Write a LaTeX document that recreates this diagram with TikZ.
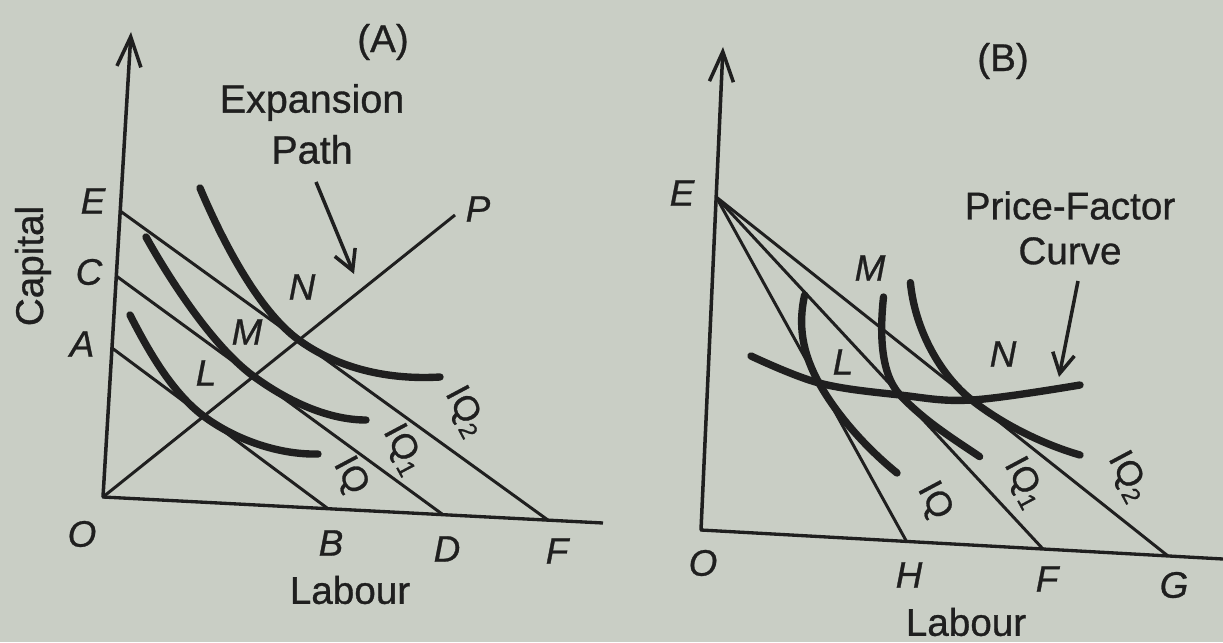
\documentclass[tikz,border=0pt]{standalone}
\usepackage{fontspec}
\setmainfont[FakeBold=0.8,AutoFakeBold=0.8]{Liberation Sans}
\usetikzlibrary{arrows.meta,calc}
\definecolor{paper}{HTML}{C9CEC5}
\definecolor{ink}{HTML}{1F1F1F}
\begin{document}
\begin{tikzpicture}[x=0.02cm,y=-0.02cm,
  axisline/.style={draw=ink, line width=2pt, line cap=round, -{Straight Barb[length=6mm,width=4.8mm,line width=2pt]}},
  baseline/.style={draw=ink, line width=1.9pt},
  budget/.style={draw=ink, line width=1.7pt},
  iso/.style={draw=ink, line width=4.2pt, line cap=round},
  pointer/.style={draw=ink, line width=2pt, -{Straight Barb[length=4mm,width=4.4mm,line width=2pt]}},
  lab/.style={font=\fontsize{21}{24}\selectfont\itshape, text=ink, inner sep=0pt},
  word/.style={font=\fontsize{22}{28}\selectfont, text=ink, inner sep=0pt, align=center},
  iqlab/.style={font=\fontsize{20}{22}\selectfont, text=ink, inner sep=0pt, rotate=-62}
]
\fill[paper] (0,0) rectangle (1223,642);
\useasboundingbox (0,0) rectangle (1223,642);

% ---------------- Panel A ----------------
\coordinate (Oa) at (103,497);
\coordinate (Ya) at (131,32);
\coordinate (Xa) at (603,523);
\coordinate (Ea) at (120.2,211);
\coordinate (Ca) at (116.3,276);
\coordinate (Aa) at (112,348);
\coordinate (Ba) at (328,508.7);
\coordinate (Da) at (443,514.7);
\coordinate (Fa) at (548,520.1);
\coordinate (Pa) at (455,215);

\draw[axisline] (Oa) -- (Ya);
\draw[baseline] (Oa) -- (Xa);
\draw[budget] (Ea) -- (Fa);
\draw[budget] (Ca) -- (Da);
\draw[budget] (Aa) -- (Ba);
\draw[budget] (Oa) -- (Pa);

\coordinate (La) at (intersection of Oa--Pa and Aa--Ba);
\coordinate (Ma) at (intersection of Oa--Pa and Ca--Da);
\coordinate (Na) at (intersection of Oa--Pa and Ea--Fa);

\draw[iso] (130,315) .. controls (148,350) and ($(La)!0.8cm!(Aa)$) .. (La)
  .. controls ($(La)!0.8cm!(Ba)$) and (280,455) .. (318,454);
\draw[iso] (146,237) .. controls (170,280) and ($(Ma)!1cm!(Ca)$) .. (Ma)
  .. controls ($(Ma)!0.9cm!(Da)$) and (330,420) .. (366,420);
\draw[iso] (200,188) .. controls (222,240) and ($(Na)!1cm!(Ea)$) .. (Na)
  .. controls ($(Na)!1cm!(Fa)$) and (390,380) .. (440,377);

\node[lab] (lEa) at (93,201) {E};
\node[lab] (lCa) at (89,272) {C};
\node[lab] (lAa) at (82,344) {A};
\node[lab] (lOa) at (82,534) {O};
\node[lab] (lBa) at (331,543) {B};
\node[lab] (lDa) at (447,549) {D};
\node[lab] (lFa) at (557,551) {F};
\node[lab] (lPa) at (478,209) {P};
\node[lab] (lLa) at (206,373) {L};
\node[lab] (lMa) at (247,332) {M};
\node[lab] (lNa) at (302,287) {N};

\node[iqlab] (iqA0) at (350,476) {IQ};
\node[iqlab] (iqA1) at (403,450) {IQ\textsubscript{1}};
\node[iqlab] (iqA2) at (465,412) {IQ\textsubscript{2}};

\node[word] (titleA) at (383,42) {(A)};
\node[word, font=\fontsize{22.5}{29}\selectfont] (expA) at (312,124) {Expansion\\Path};
\coordinate (expTail) at (316,182);
\coordinate (expHead) at (354,274);
\draw[pointer] (expTail) -- (expHead);
\node[word] (labA) at (350,590) {Labour};
\node[word, rotate=90] (capA) at (33,266) {Capital};

% ---------------- Panel B ----------------
\coordinate (Ob) at (701,530);
\coordinate (Yb) at (723,47);
\coordinate (Xb) at (1223,559);
\coordinate (Eb) at (716.2,197);
\coordinate (Hb) at (906.5,541.4);
\coordinate (Fb) at (1043,549);
\coordinate (Gb) at (1168,556);

\draw[axisline] (Ob) -- (Yb);
\draw[baseline] (Ob) -- (Xb);
\draw[budget] (Eb) -- (Hb);
\draw[budget] (Eb) -- (Fb);
\draw[budget] (Eb) -- (Gb);

\coordinate (Lb) at ($(Eb)!0.540!(Hb)$);
\coordinate (Mb) at ($(Eb)!0.5625!(Fb)$);
\coordinate (Nb) at ($(Eb)!0.5655!(Gb)$);

\draw[iso] (804.6,295) .. controls (798,325) and ($(Lb)!0.7cm!(Eb)$) .. (Lb)
  .. controls ($(Lb)!0.7cm!(Hb)$) and (865,447) .. (897,473);
\draw[iso] (883.5,297) .. controls (880,330) and ($(Mb)!0.6cm!(Eb)$) .. (Mb)
  .. controls ($(Mb)!0.7cm!(Fb)$) and (955,440) .. (979.6,456.6);
\draw[iso] (910.4,282.6) .. controls (915,330) and ($(Nb)!0.8cm!(Eb)$) .. (Nb)
  .. controls ($(Nb)!0.8cm!(Gb)$) and (1045,445) .. (1080,455);
\draw[iso] plot[smooth, tension=0.6] coordinates {(751,356) (Lb) (Mb) (Nb) (1080,385)};

\node[lab] (lEb) at (682,193) {E};
\node[lab] (lOb) at (703,563) {O};
\node[lab] (lHb) at (909,575) {H};
\node[lab] (lFb) at (1047,579) {F};
\node[lab] (lGb) at (1174,585) {G};
\node[lab] (lLb) at (843,362) {L};
\node[lab] (lMb) at (870,268) {M};
\node[lab] (lNb) at (1003,354) {N};

\node[iqlab] (iqB0) at (934,501) {IQ};
\node[iqlab] (iqB1) at (1024,483) {IQ\textsubscript{1}};
\node[iqlab] (iqB2) at (1128,477) {IQ\textsubscript{2}};

\node[word] (titleB) at (1003,61) {(B)};
\node[word, font=\fontsize{22}{25.5}\selectfont] (pfc) at (1070,228) {Price-Factor\\Curve};
\coordinate (pfTail) at (1078,281);
\coordinate (pfHead) at (1059,377);
\draw[pointer] (pfTail) -- (pfHead);
\node[word] (labB) at (966,622) {Labour};
\end{tikzpicture}
\end{document}
